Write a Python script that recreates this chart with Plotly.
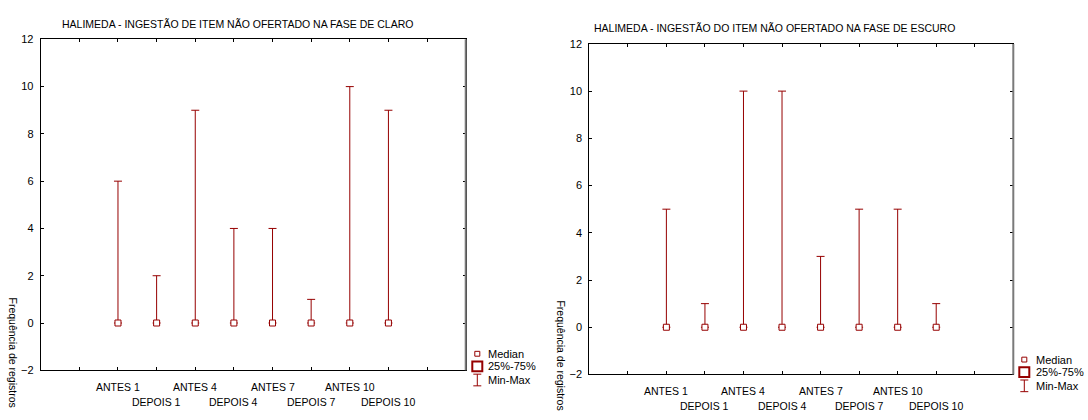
import plotly.graph_objects as go

# Groups (before / after feeding events)
categories = ["ANTES 1", "DEPOIS 1", "ANTES 4", "DEPOIS 4",
              "ANTES 7", "DEPOIS 7", "ANTES 10", "DEPOIS 10"]

# Light phase: median, min and max of records
claro_median = [0, 0, 0, 0, 0, 0, 0, 0]
claro_min = [0, 0, 0, 0, 0, 0, 0, 0]
claro_max = [6, 2, 9, 4, 4, 1, 10, 9]

# Dark phase
escuro_median = [0, 0, 0, 0, 0, 0, 0, 0]
escuro_min = [0, 0, 0, 0, 0, 0, 0, 0]
escuro_max = [5, 1, 10, 10, 3, 5, 5, 1]

y_ticks = [-2, 0, 2, 4, 6, 8, 10, 12]

titles = ["HALIMEDA - INGESTÃO DE ITEM NÃO OFERTADO NA FASE DE CLARO",
          "HALIMEDA - INGESTÃO DO ITEM NÃO OFERTADO NA FASE DE ESCURO"]
y_title = "Frequência de registros"
legend_labels = ["Median", "25%-75%", "Min-Max"]

W, H = 1088, 420
RED = "#960000"
FONT = "Liberation Sans, Arial, sans-serif"


def px(x):
    return x / W


def py(y):
    return 1 - y / H


# category slots 2..9 on a 0..11 axis
positions = [i + 2 for i in range(len(categories))]

# panel frames in pixels: left, right, top, bottom
panels = [
    dict(l=40.7, r=465.7, t=34.3, b=375.0),
    dict(l=589.3, r=1013.3, t=39.0, b=379.3),
]
title_pos = [(237, 19), (774, 23)]
ylabel_pos = [(13, 298), (561, 301)]
legend_pos = [(477.3, 485.7, 358.0), (1024.3, 1034.0, 364.0)]

series = [(claro_median, claro_min, claro_max),
          (escuro_median, escuro_min, escuro_max)]

fig = go.Figure()
annotations = []
shapes = []

for k, (med, lo, hi) in enumerate(series):
    xa = "x" if k == 0 else "x2"
    ya = "y" if k == 0 else "y2"
    fig.add_trace(go.Scatter(
        x=positions, y=med, xaxis=xa, yaxis=ya, mode="markers",
        marker=dict(symbol="square", size=6, color="white",
                    line=dict(color=RED, width=1)),
        error_y=dict(type="data", symmetric=False,
                     array=[h - m for h, m in zip(hi, med)],
                     arrayminus=[m - l for m, l in zip(med, lo)],
                     color=RED, thickness=1, width=4),
        showlegend=False, hoverinfo="skip",
    ))

    p = panels[k]
    axis_common = dict(showgrid=False, zeroline=False, showline=True,
                       linecolor="black", linewidth=1, mirror="ticks",
                       ticks="inside", ticklen=3, tickcolor="black",
                       tickwidth=1)
    xkey = "xaxis" if k == 0 else "xaxis2"
    ykey = "yaxis" if k == 0 else "yaxis2"
    fig.update_layout({
        xkey: dict(axis_common, domain=[px(p["l"]), px(p["r"])],
                   range=[0, 11], tickvals=list(range(1, 11)),
                   showticklabels=False, anchor=ya),
        ykey: dict(axis_common, domain=[py(p["b"]), py(p["t"])],
                   range=[-2, 12], tickvals=y_ticks,
                   tickfont=dict(family=FONT, size=11, color="black"),
                   ticklabelstandoff=4, anchor=xa),
    })

    # grey right edge of the frame
    shapes.append(dict(type="line", xref=f"{xa} domain", yref=f"{ya} domain",
                       x0=1, x1=1, y0=0, y1=1,
                       line=dict(color="#7a7a7a", width=2)))

    # staggered category labels
    for i, (pos, name) in enumerate(zip(positions, categories)):
        annotations.append(dict(
            x=pos, y=0, xref=xa, yref=f"{ya} domain", text=name,
            showarrow=False, xanchor="center", yanchor="top",
            yshift=-9 if i % 2 == 0 else -24,
            font=dict(family=FONT, size=10.5, color="black")))

    tx, ty = title_pos[k]
    annotations.append(dict(
        x=px(tx), y=py(ty), xref="paper", yref="paper", text=titles[k],
        showarrow=False, xanchor="center", yanchor="middle",
        font=dict(family=FONT, size=10.5, color="black")))

    lx, ly = ylabel_pos[k]
    annotations.append(dict(
        x=px(lx), y=py(ly), xref="paper", yref="paper", text=y_title,
        showarrow=False, textangle=90, xanchor="center", yanchor="top",
        font=dict(family=FONT, size=10.5, color="black")))

    # legend: median marker, quartile box, min-max whisker
    mx, tx2, y0 = legend_pos[k]
    rows = [y0, y0 + 13, y0 + 27]
    shapes.append(dict(type="rect", xref="paper", yref="paper",
                       x0=px(mx - 2.5), x1=px(mx + 2.5),
                       y0=py(rows[0] + 2.5), y1=py(rows[0] - 2.5),
                       line=dict(color=RED, width=1), fillcolor="white"))
    shapes.append(dict(type="rect", xref="paper", yref="paper",
                       x0=px(mx - 5), x1=px(mx + 5),
                       y0=py(rows[1] + 5), y1=py(rows[1] - 5),
                       line=dict(color=RED, width=2), fillcolor="white"))
    shapes.append(dict(type="line", xref="paper", yref="paper",
                       x0=px(mx), x1=px(mx),
                       y0=py(rows[2] - 6), y1=py(rows[2] + 6),
                       line=dict(color=RED, width=1)))
    for yy in (rows[2] - 6, rows[2] + 6):
        shapes.append(dict(type="line", xref="paper", yref="paper",
                           x0=px(mx - 4), x1=px(mx + 4),
                           y0=py(yy), y1=py(yy),
                           line=dict(color=RED, width=1)))
    for text, yy in zip(legend_labels, rows):
        annotations.append(dict(
            x=px(tx2), y=py(yy), xref="paper", yref="paper", text=text,
            showarrow=False, xanchor="left", yanchor="middle",
            font=dict(family=FONT, size=11, color="black")))

fig.update_layout(
    width=W, height=H, margin=dict(l=0, r=0, t=0, b=0),
    paper_bgcolor="white", plot_bgcolor="white",
    annotations=annotations, shapes=shapes,
)

fig.write_html("out.html")
